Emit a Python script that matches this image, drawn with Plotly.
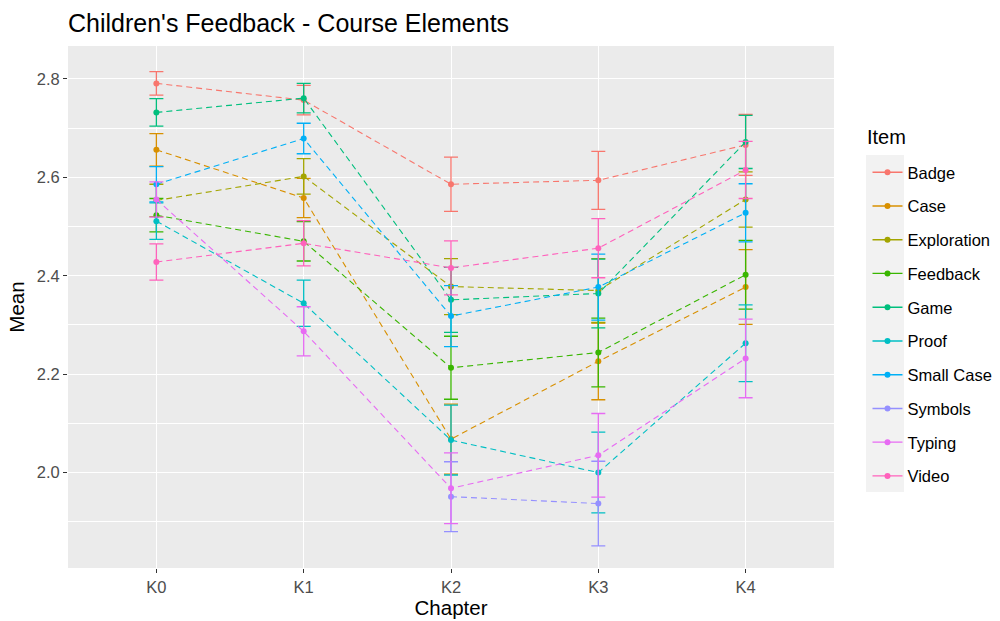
import plotly.graph_objects as go

chapters = ["K0", "K1", "K2", "K3", "K4"]
items = ["Badge", "Case", "Exploration", "Feedback", "Game", "Proof",
         "Small Case", "Symbols", "Typing", "Video"]
colors = ["#F8766D", "#D89000", "#A3A500", "#39B600", "#00BF7D", "#00BFC4",
          "#00B0F6", "#9590FF", "#E76BF3", "#FF62BC"]

mean_badge = [2.791, 2.757, 2.586, 2.594, 2.666]
mean_case = [2.656, 2.558, 2.068, 2.226, 2.377]
mean_exploration = [2.553, 2.602, 2.378, 2.370, 2.555]
mean_feedback = [2.523, 2.470, 2.213, 2.244, 2.402]
mean_game = [2.732, 2.761, 2.351, 2.364, 2.672]
mean_proof = [2.511, 2.344, 2.066, 2.000, 2.263]
mean_smallcase = [2.586, 2.679, 2.318, 2.377, 2.528]
mean_symbols = [None, None, 1.951, 1.937, None]
mean_typing = [2.555, 2.287, 1.968, 2.035, 2.232]
mean_video = [2.428, 2.466, 2.416, 2.456, 2.615]

se_badge = [0.024, 0.030, 0.055, 0.059, 0.062]
se_case = [0.033, 0.040, 0.071, 0.078, 0.076]
se_exploration = [0.033, 0.036, 0.057, 0.065, 0.056]
se_feedback = [0.034, 0.040, 0.064, 0.070, 0.070]
se_game = [0.028, 0.030, 0.066, 0.070, 0.054]
se_proof = [0.037, 0.047, 0.071, 0.082, 0.078]
se_smallcase = [0.036, 0.031, 0.062, 0.067, 0.059]
se_symbols = [None, None, 0.071, 0.086, None]
se_typing = [0.036, 0.050, 0.072, 0.085, 0.080]
se_video = [0.037, 0.046, 0.055, 0.060, 0.058]

means = [mean_badge, mean_case, mean_exploration, mean_feedback, mean_game,
         mean_proof, mean_smallcase, mean_symbols, mean_typing, mean_video]
ses = [se_badge, se_case, se_exploration, se_feedback, se_game,
       se_proof, se_smallcase, se_symbols, se_typing, se_video]

FONT = "Liberation Sans, Arial, sans-serif"
PW, PH, PL, PT = 766, 522, 68, 46  # plot area geometry in px

def px_x(p):
    return (p - PL) / PW

def px_y(p):
    return 1 - (p - PT) / PH

fig = go.Figure()
for name, col, m, s in zip(items, colors, means, ses):
    xs = [c for c, v in zip(chapters, m) if v is not None]
    ys = [v for v in m if v is not None]
    es = [e for e in s if e is not None]
    fig.add_trace(go.Scatter(
        x=xs, y=ys, mode="lines+markers", name=name, showlegend=False,
        line=dict(color=col, width=1.1, dash="6px,4px"),
        marker=dict(color=col, size=6),
        error_y=dict(type="data", array=es, visible=True, color=col,
                     thickness=1.3, width=7),
    ))
# legend keys (solid line + dot, as in the reference)
for name, col in zip(items, colors):
    fig.add_trace(go.Scatter(
        x=[None], y=[None], mode="lines+markers", name=name,
        legendgroup=name, showlegend=True,
        line=dict(color=col, width=1.3), marker=dict(color=col, size=6),
    ))

fig.update_layout(
    width=1000, height=621,
    margin=dict(l=68, r=166, t=46, b=53, autoexpand=False),
    paper_bgcolor="white", plot_bgcolor="#EBEBEB",
    font=dict(family=FONT, color="#4D4D4D", size=16.5),
    title=dict(text="Children's Feedback - Course Elements",
               font=dict(family=FONT, size=25, color="black"),
               x=0.068, xref="container", xanchor="left",
               y=1 - 23 / 621, yref="container", yanchor="middle"),
    xaxis=dict(type="category", categoryorder="array", categoryarray=chapters,
               range=[-0.6, 4.6], showgrid=True, gridcolor="white", gridwidth=1.4,
               zeroline=False, ticks="outside", ticklen=4, tickcolor="#333333",
               tickwidth=1, tickfont=dict(size=16.5, color="#4D4D4D"),
               title=dict(text="Chapter", font=dict(size=20.5, color="black"),
                          standoff=4)),
    yaxis=dict(range=[1.806, 2.867], tick0=2.0, dtick=0.2, showgrid=True,
               gridcolor="white", gridwidth=1.4, zeroline=False,
               ticks="outside", ticklen=4, tickcolor="#333333", tickwidth=1,
               tickformat=".1f",
               tickfont=dict(size=16.5, color="#4D4D4D"),
               minor=dict(dtick=0.1, tick0=1.9, showgrid=True, gridcolor="white",
                          gridwidth=0.7, ticks=""),
               title=dict(text="Mean", font=dict(size=20.5, color="black"),
                          standoff=6)),
    legend=dict(x=px_x(867.5), xanchor="left", y=px_y(155),
                yanchor="top", bgcolor="rgba(0,0,0,0)",
                font=dict(size=16.5, color="black"),
                tracegroupgap=9.3, itemwidth=30),
    annotations=[dict(text="Item", xref="paper", yref="paper",
                      x=px_x(865), y=px_y(137), xanchor="left", yanchor="middle",
                      showarrow=False, font=dict(size=20, color="black"))],
    shapes=[dict(type="rect", xref="paper", yref="paper",
                 x0=px_x(866), x1=px_x(904), y0=px_y(492), y1=px_y(155),
                 fillcolor="#F2F2F2", line=dict(width=0), layer="below")],
)

fig.write_html("out.html")
